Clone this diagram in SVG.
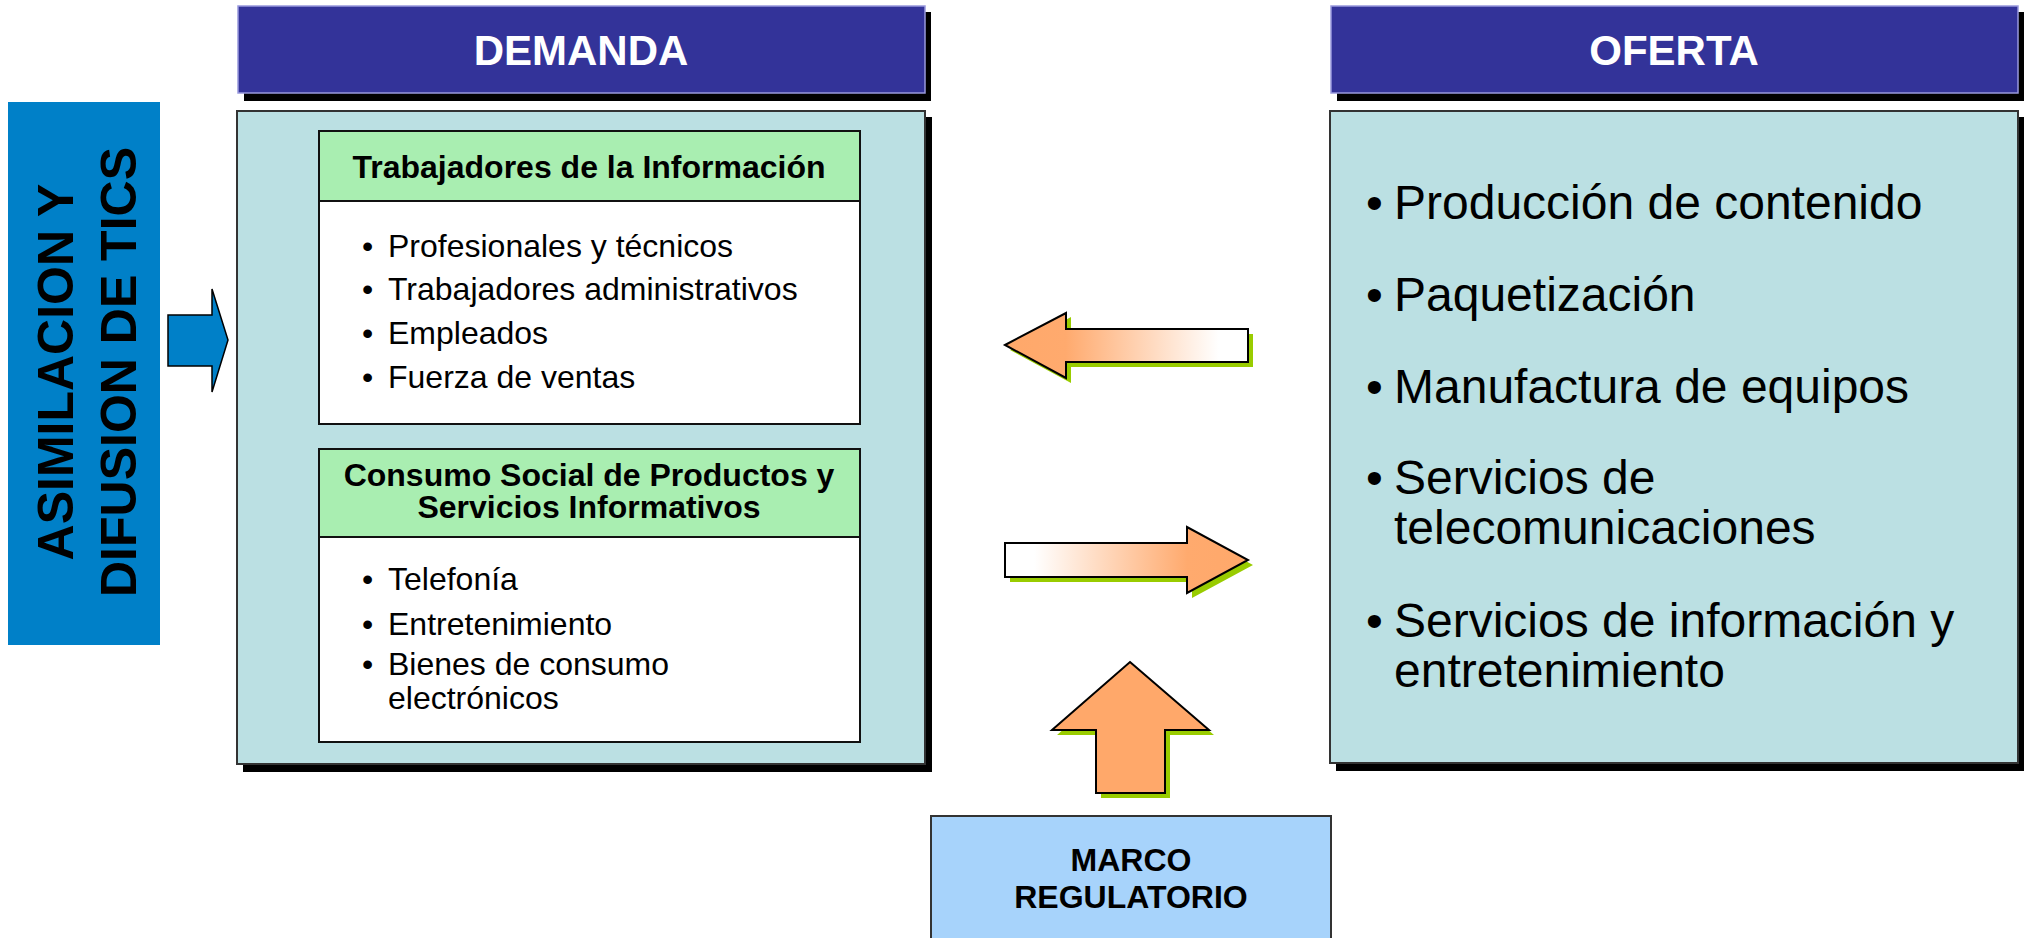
<svg xmlns="http://www.w3.org/2000/svg" width="2024" height="938" viewBox="0 0 2024 938">
<defs>
<linearGradient id="gl" x1="0" y1="0" x2="1" y2="0">
<stop offset="0" stop-color="#FFA86A"/><stop offset="0.25" stop-color="#FFAA6E"/><stop offset="0.88" stop-color="#FFFFFF"/><stop offset="1" stop-color="#FFFFFF"/>
</linearGradient>
<linearGradient id="gr" x1="1" y1="0" x2="0" y2="0">
<stop offset="0" stop-color="#FFA86A"/><stop offset="0.25" stop-color="#FFAA6E"/><stop offset="0.88" stop-color="#FFFFFF"/><stop offset="1" stop-color="#FFFFFF"/>
</linearGradient>
</defs>
<style>
.hdr{fill:#333399;stroke:#9999DD;stroke-width:1.5}
.shadow{fill:#000}
.panel{fill:#BBE0E3;stroke:#333;stroke-width:2}
.gbox{fill:#A9EEB1;stroke:#111;stroke-width:2}
.wbox{fill:#FFF;stroke:#111;stroke-width:2}
.ht{font-family:"Liberation Sans",Arial,sans-serif;font-weight:bold;font-size:42px;fill:#FFF;text-anchor:middle}
.bt{font-family:"Liberation Sans",Arial,sans-serif;font-weight:bold;font-size:32px;fill:#000;text-anchor:middle}
.it{font-family:"Liberation Sans",Arial,sans-serif;font-size:32px;fill:#000}
.ot{font-family:"Liberation Sans",Arial,sans-serif;font-size:48px;fill:#000}
.vt{font-family:"Liberation Sans",Arial,sans-serif;font-weight:bold;font-size:50px;fill:#000;text-anchor:middle}
.arr{stroke:#000;stroke-width:2;stroke-linejoin:miter}
.gsh{fill:#99CC00}
</style>

<g id="asimilacion">
<rect x="8" y="102" width="152" height="543" fill="#0080C8"/>
<text class="vt" transform="translate(73,372) rotate(-90)">ASIMILACION Y</text>
<text class="vt" transform="translate(136,372) rotate(-90)">DIFUSION DE TICS</text>
</g>

<g id="demanda-header">
<rect class="shadow" x="244" y="12" width="687" height="89"/>
<rect class="hdr" x="238" y="6" width="687" height="87"/>
<text class="ht" x="581" y="65">DEMANDA</text>
</g>

<g id="oferta-header">
<rect class="shadow" x="1337" y="12" width="687" height="89"/>
<rect class="hdr" x="1331" y="6" width="687" height="87"/>
<text class="ht" x="1674" y="65">OFERTA</text>
</g>

<g id="demanda-panel">
<rect class="shadow" x="243" y="117" width="689" height="655"/>
<rect class="panel" x="237" y="111" width="688" height="653"/>
</g>

<g id="trabajadores">
<rect class="wbox" x="319" y="131" width="541" height="293"/>
<rect class="gbox" x="319" y="131" width="541" height="70"/>
<text class="bt" x="589" y="178">Trabajadores de la Información</text>
<text class="it" x="362" y="257">•</text><text class="it" x="388" y="257">Profesionales y técnicos</text>
<text class="it" x="362" y="300">•</text><text class="it" x="388" y="300">Trabajadores administrativos</text>
<text class="it" x="362" y="344">•</text><text class="it" x="388" y="344">Empleados</text>
<text class="it" x="362" y="388">•</text><text class="it" x="388" y="388">Fuerza de ventas</text>
</g>

<g id="consumo">
<rect class="wbox" x="319" y="449" width="541" height="293"/>
<rect class="gbox" x="319" y="449" width="541" height="88"/>
<text class="bt"><tspan x="589" y="486">Consumo Social de Productos y</tspan><tspan x="589" y="518">Servicios Informativos</tspan></text>
<text class="it" x="362" y="590">•</text><text class="it" x="388" y="590">Telefonía</text>
<text class="it" x="362" y="635">•</text><text class="it" x="388" y="635">Entretenimiento</text>
<text class="it" x="362" y="675">•</text><text class="it"><tspan x="388" y="675">Bienes de consumo</tspan><tspan x="388" y="709">electrónicos</tspan></text>
</g>

<g id="oferta-panel">
<rect class="shadow" x="1336" y="117" width="688" height="654"/>
<rect class="panel" x="1330" y="111" width="688" height="652"/>
<text class="ot" x="1366" y="219">•</text><text class="ot" x="1394" y="219">Producción de contenido</text>
<text class="ot" x="1366" y="311">•</text><text class="ot" x="1394" y="311">Paquetización</text>
<text class="ot" x="1366" y="403">•</text><text class="ot" x="1394" y="403">Manufactura de equipos</text>
<text class="ot" x="1366" y="494">•</text><text class="ot"><tspan x="1394" y="494">Servicios de</tspan><tspan x="1394" y="544">telecomunicaciones</tspan></text>
<text class="ot" x="1366" y="637">•</text><text class="ot"><tspan x="1394" y="637">Servicios de información y</tspan><tspan x="1394" y="687">entretenimiento</tspan></text>
</g>

<g id="marco">
<rect x="931" y="816" width="400" height="130" fill="#A7D3FB" stroke="#333" stroke-width="2"/>
<text class="bt"><tspan x="1131" y="871">MARCO</tspan><tspan x="1131" y="908">REGULATORIO</tspan></text>
</g>

<g id="connectors">
<polygon points="168,315 212,315 212,289 228,340 212,392 212,366 168,366" fill="#0080C8" stroke="#000" stroke-width="1.5"/>
<polygon class="gsh" points="1010,350 1071,317 1071,334 1253,334 1253,367 1071,367 1071,383"/>
<polygon class="arr" fill="url(#gl)" points="1005,345 1066,313 1066,329 1248,329 1248,362 1066,362 1066,378"/>
<polygon class="gsh" points="1010,548 1192,548 1192,532 1253,565 1192,598 1192,582 1010,582"/>
<polygon class="arr" fill="url(#gr)" points="1005,543 1187,543 1187,527 1248,560 1187,593 1187,577 1005,577"/>
<polygon class="gsh" points="1135,667 1214,735 1170,735 1170,798 1101,798 1101,735 1057,735"/>
<polygon class="arr" fill="#FFA86A" points="1130,662 1209,730 1165,730 1165,793 1096,793 1096,730 1052,730"/>
</g>
</svg>
